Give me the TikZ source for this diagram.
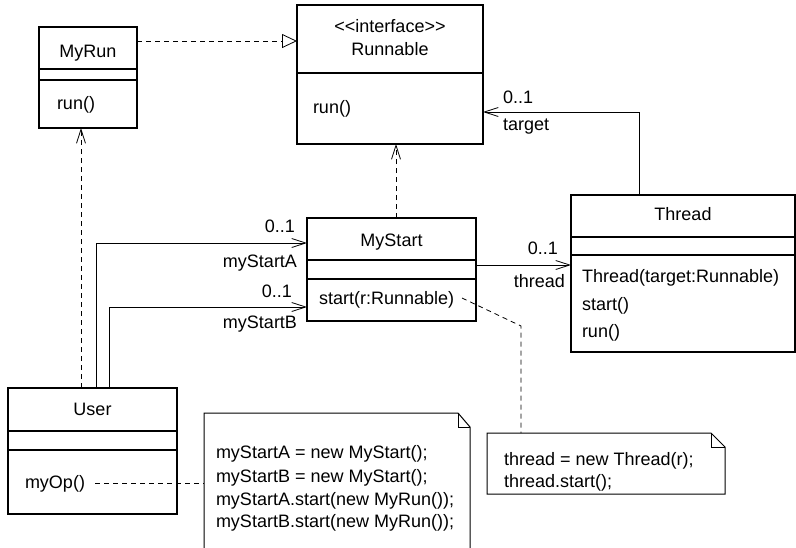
\documentclass[tikz,border=0pt]{standalone}
\usepackage{fontspec}
\setmainfont{Liberation Sans}[Ligatures=TeXOff]
\usetikzlibrary{arrows.meta}
\begin{document}
\begin{tikzpicture}[x=1pt,y=-1pt, line width=0.8pt,
  every node/.style={font=\fontsize{18}{22}\selectfont, inner sep=0pt, outer sep=0pt},
  umlbox/.style={draw, rectangle, line width=1.5pt},
  divider/.style={line width=1.5pt},
  notebox/.style={line width=1pt},
  lbl/.style={anchor=base west},
  clbl/.style={anchor=base},
  rlbl/.style={anchor=base east},
  dashline/.style={dash pattern=on 5pt off 4pt},
  barb/.style={-{Straight Barb[length=14pt,width=9pt]}},
  realize/.style={-{Triangle[open,length=15pt,width=14pt]}}]
\useasboundingbox (0,0) rectangle (796,547);

% MyRun
\node[umlbox, minimum width=98pt, minimum height=101pt] (myrun) at (88,77.5) {};
\draw[divider] (39,69) -- (137,69);
\draw[divider] (39,80) -- (137,80);
\node[clbl] (myrunname) at (88,57) {MyRun};
\node[lbl] (myrunop) at (57,109) {run()};

% Runnable
\node[umlbox, minimum width=186pt, minimum height=139pt] (runnable) at (390,74.5) {};
\draw[divider] (297,73) -- (483,73);
\node[clbl] (runster) at (390,32) {<{}<interface>{}>};
\node[clbl] (runname) at (390,55) {Runnable};
\node[lbl] (runop) at (313,113) {run()};

% Thread
\node[umlbox, minimum width=224pt, minimum height=157pt] (thread) at (683,273.5) {};
\draw[divider] (571,237) -- (795,237);
\draw[divider] (571,255) -- (795,255);
\node[clbl] (thrname) at (683,220) {Thread};
\node[lbl] (throp1) at (582,282) {Thread(target:Runnable)};
\node[lbl] (throp2) at (582,310) {start()};
\node[lbl] (throp3) at (582,337) {run()};

% MyStart
\node[umlbox, minimum width=169pt, minimum height=103pt] (mystart) at (391.5,269.5) {};
\draw[divider] (307,260) -- (476,260);
\draw[divider] (307,279) -- (476,279);
\node[clbl] (msname) at (391.5,246) {MyStart};
\node[lbl] (msop) at (319,304) {start(r:Runnable)};

% User
\node[umlbox, minimum width=169pt, minimum height=126pt] (user) at (92.5,451) {};
\draw[divider] (8,431) -- (177,431);
\draw[divider] (8,450) -- (177,450);
\node[clbl] (username) at (92.5,415) {User};
\node[lbl] (userop) at (25,488) {myOp()};

% Note 1
\draw[notebox] (204,550) -- (204,413) -- (458,413) -- (470,427) -- (470,550);
\draw[notebox] (458,413) -- (458,427) -- (470,427);
\node[lbl] (n1a) at (216,458) {myStartA = new MyStart();};
\node[lbl] (n1b) at (216,482) {myStartB = new MyStart();};
\node[lbl] (n1c) at (216,505) {myStartA.start(new MyRun());};
\node[lbl] (n1d) at (216,527) {myStartB.start(new MyRun());};
\coordinate (note1left) at (204,483);

% Note 2
\draw[notebox] (487,433) -- (711,433) -- (725,447) -- (725,494) -- (487,494) -- cycle;
\draw[notebox] (711,433) -- (711,447) -- (725,447);
\node[lbl] (n2a) at (504,465) {thread = new Thread(r);};
\node[lbl] (n2b) at (504,487) {thread.start();};
\coordinate (note2top) at (521,433);

% Connectors
\coordinate (y41) at (0,41);
\draw[dashline, realize] (myrun.east |- y41) -- (runnable.west |- y41);

\coordinate (ud) at (81,0);
\draw[dashline, barb] (user.north -| ud) -- (myrun.south -| ud);

\coordinate (ua) at (96,243);
\draw[barb] (user.north -| ua) -- (ua) -- (mystart.west |- ua);
\coordinate (ub) at (109,307);
\draw[barb] (user.north -| ub) -- (ub) -- (mystart.west |- ub);
\node[rlbl] (la1) at (295,232) {0..1};
\node[rlbl] (la2) at (297,267) {myStartA};
\node[rlbl] (lb1) at (292,297) {0..1};
\node[rlbl] (lb2) at (297,328) {myStartB};

\coordinate (ms) at (396,0);
\draw[dashline, barb] (mystart.north -| ms) -- (runnable.south -| ms);

\coordinate (mt) at (0,265);
\draw[barb] (mystart.east |- mt) -- (thread.west |- mt);
\node[rlbl] (lt1) at (558,254) {0..1};
\node[rlbl] (lt2) at (565,287) {thread};

\coordinate (tr) at (639,112);
\draw[barb] (thread.north -| tr) -- (tr) -- (runnable.east |- tr);
\node[lbl] (lr1) at (503,103) {0..1};
\node[lbl] (lr2) at (503,130) {target};

\coordinate (myopend) at (95,483);
\draw[dashline] (myopend) -- (note1left);

\coordinate (sn1) at (462,298);
\coordinate (sn2) at (521,326);
\draw[dashline] (sn1) -- (sn2) -- (note2top);
\end{tikzpicture}
\end{document}
